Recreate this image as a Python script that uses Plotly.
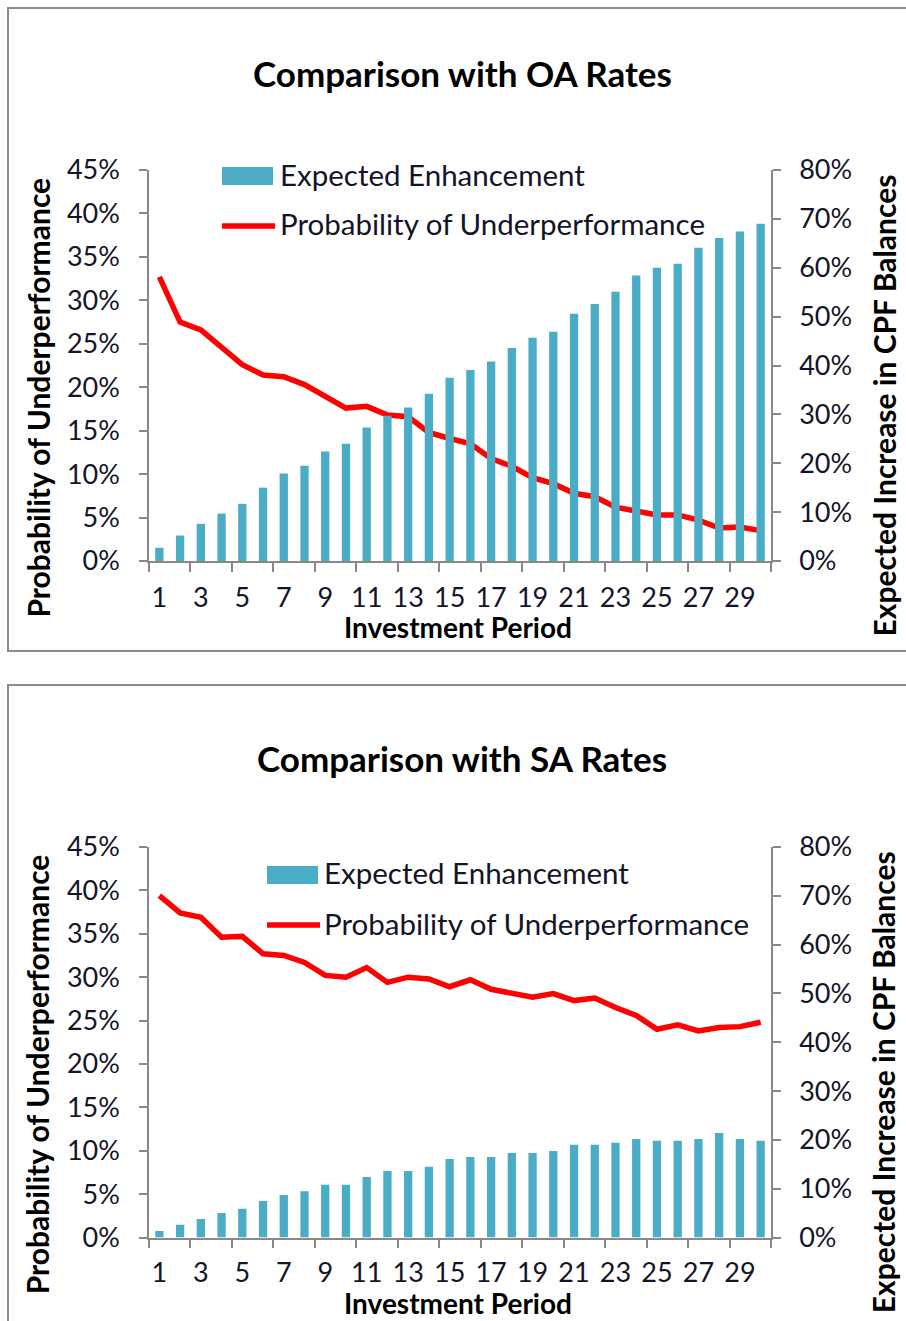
import plotly.graph_objects as go

periods = list(range(1, 31))

# Chart 1: Comparison with OA Rates
oa_enhancement = [2.7, 5.2, 7.6, 9.7, 11.7, 15.0, 17.9, 19.5, 22.4, 24.0,
                  27.3, 29.7, 31.4, 34.2, 37.5, 39.1, 40.8, 43.6, 45.7, 46.9,
                  50.6, 52.6, 55.1, 58.4, 60.0, 60.8, 64.1, 66.1, 67.4, 69.0]
oa_prob = [32.7, 27.5, 26.6, 24.5, 22.6, 21.4, 21.2, 20.3, 18.9, 17.6,
           17.8, 16.8, 16.6, 14.8, 14.1, 13.5, 11.8, 10.9, 9.6, 8.9,
           7.8, 7.4, 6.2, 5.8, 5.3, 5.3, 4.7, 3.8, 3.9, 3.5]

# Chart 2: Comparison with SA Rates
sa_enhancement = [1.35, 2.6, 3.8, 5.0, 5.9, 7.5, 8.7, 9.5, 10.8, 10.8,
                  12.4, 13.6, 13.6, 14.5, 16.1, 16.5, 16.5, 17.3, 17.3, 17.7,
                  19.0, 19.0, 19.4, 20.2, 19.8, 19.8, 20.2, 21.4, 20.2, 19.8]
sa_prob = [39.4, 37.4, 36.9, 34.6, 34.7, 32.7, 32.5, 31.7, 30.2, 30.0,
           31.1, 29.4, 30.0, 29.8, 28.9, 29.7, 28.6, 28.1, 27.7, 28.1,
           27.3, 27.6, 26.5, 25.6, 24.0, 24.5, 23.8, 24.2, 24.3, 24.8]

left_ticks = [0, 5, 10, 15, 20, 25, 30, 35, 40, 45]
right_ticks = [0, 10, 20, 30, 40, 50, 60, 70, 80]
x_label_vals = list(range(1, 31, 2))
x_mark_vals = [v - 0.5 for v in range(1, 32, 2)]

titles = ["Comparison with OA Rates", "Comparison with SA Rates"]
bar_name = "Expected Enhancement"
line_name = "Probability of Underperformance"
left_title = "Probability of Underperformance"
right_title = "Expected Increase in CPF Balances"
x_title = "Investment Period"

W, H = 906, 1321
FONT = "Lato"
TXT = "#141428"
GRID = "#888888"
BAR = "#4BACC6"
RED = "#FF0000"


def fx(px):
    return px / W


def fy(py):
    return 1 - py / H


fig = go.Figure()

charts = [
    dict(enh=oa_enhancement, prob=oa_prob, top=170, bot=561, xstand=12,
         title_y=73, xt_y=645, box=(8, 8, 914, 651),
         leg_x=222, leg_text_x=278, leg_y1=176, leg_y2=226),
    dict(enh=sa_enhancement, prob=sa_prob, top=847, bot=1237.5, xstand=10,
         title_y=758, xt_y=1321, box=(8, 685, 914, 1330),
         leg_x=267, leg_text_x=322, leg_y1=875, leg_y2=925),
]

annotations = []
shapes = []
for i, c in enumerate(charts):
    k = i + 1
    xa = "x" if k == 1 else f"x{k}"
    ylname = "y" if k == 1 else f"y{2*k-1}"
    yrname = f"y{2*k}"
    fig.add_trace(go.Bar(x=periods, y=c["enh"], name=bar_name, marker_color=BAR,
                         marker_line_width=0, width=0.4, xaxis=xa, yaxis=yrname,
                         showlegend=False))
    fig.add_trace(go.Scatter(x=periods, y=c["prob"], name=line_name, mode="lines",
                             line=dict(color=RED, width=5.5), xaxis=xa, yaxis=ylname,
                             showlegend=False))
    dom_y = [fy(c["bot"]), fy(c["top"])]
    xkey = "xaxis" if k == 1 else f"xaxis{k}"
    ylkey = "yaxis" if k == 1 else f"yaxis{2*k-1}"
    yrkey = f"yaxis{2*k}"
    fig.layout[xkey] = dict(
        domain=[fx(149), fx(771)], range=[0.5, 30.5], anchor=ylname, automargin=False,
        tickmode="array", tickvals=x_label_vals, ticktext=[str(v) for v in x_label_vals],
        ticks="", showline=True, linecolor=GRID, linewidth=1.5, showgrid=False,
        zeroline=False, tickfont=dict(family=FONT, size=27, color=TXT),
        ticklabelstandoff=c["xstand"],
        minor=dict(tickmode="array", tickvals=x_mark_vals, ticks="outside",
                   ticklen=9, tickcolor=GRID, tickwidth=1.5, showgrid=False),
    )
    fig.layout[ylkey] = dict(
        domain=dom_y, range=[0, 45], anchor=xa, tickvals=left_ticks, automargin=False,
        ticktext=[f"{v}%" for v in left_ticks], ticks="outside", ticklen=8,
        tickcolor=GRID, tickwidth=1.5, showline=True, linecolor=GRID, linewidth=1.5,
        showgrid=False, zeroline=False, ticklabelstandoff=14,
        tickfont=dict(family=FONT, size=27, color=TXT),
    )
    fig.layout[yrkey] = dict(
        domain=dom_y, range=[0, 80], anchor=xa, overlaying=ylname, side="right",
        tickvals=right_ticks, ticktext=[f"{v}%" for v in right_ticks], automargin=False,
        ticks="outside", ticklen=8, tickcolor=GRID, tickwidth=1.5, showline=True,
        linecolor=GRID, linewidth=1.5, showgrid=False, zeroline=False,
        ticklabelstandoff=13, tickfont=dict(family=FONT, size=27, color=TXT),
    )
    # chart frame
    x0, y0, x1, y1 = c["box"]
    shapes.append(dict(type="rect", xref="paper", yref="paper", x0=fx(x0), x1=fx(x1),
                       y0=fy(y1), y1=fy(y0), line=dict(color="#8c8c8c", width=2),
                       layer="below"))
    # legend
    lx = c["leg_x"]
    shapes.append(dict(type="rect", xref="paper", yref="paper",
                       x0=fx(lx), x1=fx(lx + 51), y0=fy(c["leg_y1"] + 9),
                       y1=fy(c["leg_y1"] - 9), fillcolor=BAR, line=dict(width=0)))
    shapes.append(dict(type="line", xref="paper", yref="paper",
                       x0=fx(lx), x1=fx(lx + 53), y0=fy(c["leg_y2"]), y1=fy(c["leg_y2"]),
                       line=dict(color=RED, width=5.5)))
    for name, ly in ((bar_name, c["leg_y1"]), (line_name, c["leg_y2"])):
        annotations.append(dict(text=name, x=fx(c["leg_text_x"]), y=fy(ly - 2),
                                xref="paper", yref="paper", showarrow=False,
                                font=dict(family=FONT, size=29.5, color=TXT),
                                xanchor="left", yanchor="middle"))
    annotations.append(dict(text=f"<b>{titles[i]}</b>", x=fx(462), y=fy(c["title_y"]),
                            xref="paper", yref="paper", showarrow=False,
                            font=dict(family=FONT, size=35, color="#000"),
                            xanchor="center", yanchor="middle"))
    annotations.append(dict(text=f"<b>{x_title}</b>", x=fx(458), y=fy(c["xt_y"]),
                            xref="paper", yref="paper", showarrow=False,
                            font=dict(family=FONT, size=28, color="#000"),
                            xanchor="center", yanchor="bottom", borderpad=0))
    mid = (c["top"] + c["bot"]) / 2
    annotations.append(dict(text=f"<b>{left_title}</b>", x=fx(37), y=fy(mid + 32),
                            xref="paper", yref="paper", showarrow=False, textangle=-90,
                            font=dict(family=FONT, size=30, color="#000"),
                            xanchor="center", yanchor="middle"))
    annotations.append(dict(text=f"<b>{right_title}</b>", x=fx(883), y=fy(mid + 40),
                            xref="paper", yref="paper", showarrow=False, textangle=-90,
                            font=dict(family=FONT, size=30, color="#000"),
                            xanchor="center", yanchor="middle"))

fig.update_layout(
    template="none",
    width=W, height=H, margin=dict(l=0, r=0, t=0, b=0, autoexpand=False),
    paper_bgcolor="white", plot_bgcolor="rgba(0,0,0,0)",
    barmode="overlay", showlegend=False,
    annotations=annotations, shapes=shapes,
)

fig.write_html(
    "out.html",
    config={"displayModeBar": False},
    post_script="document.body.style.margin='0';document.body.style.overflow='hidden';",
)
